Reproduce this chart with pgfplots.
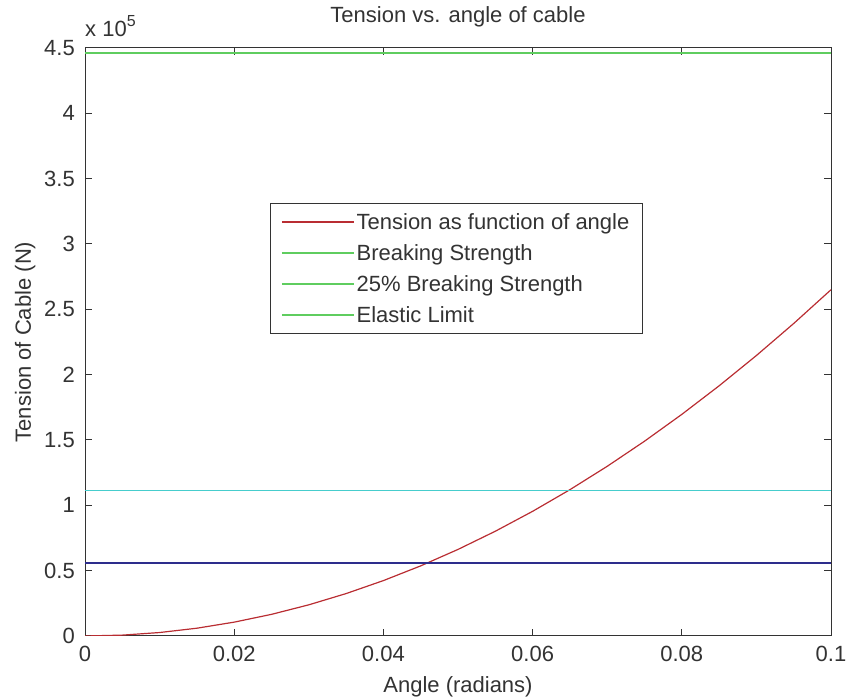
\documentclass[border=0pt]{standalone}
\usepackage{pgfplots}
\pgfplotsset{compat=1.18}
\usepackage{fontspec}
\setmainfont{Liberation Sans}

\definecolor{tensred}{RGB}{185,45,50}
\definecolor{breakg}{RGB}{95,205,95}
\definecolor{quartc}{RGB}{70,205,205}
\definecolor{elastb}{RGB}{45,45,140}

% tension of cable (units of 1e5 N) against angle (rad)
\pgfplotstableread{
x       y
0.000   0.0000
0.005   0.0066
0.010   0.0265
0.015   0.0596
0.020   0.1060
0.025   0.1656
0.030   0.2385
0.035   0.3246
0.040   0.4240
0.045   0.5366
0.050   0.6625
0.055   0.8016
0.060   0.9540
0.065   1.1196
0.070   1.2985
0.075   1.4906
0.080   1.6960
0.085   1.9146
0.090   2.1465
0.095   2.3916
0.100   2.6500
}\tensiondata

\begin{document}
\begin{tikzpicture}[x=1pt,y=1pt]
\useasboundingbox (0,0) rectangle (847,700);
\begin{axis}[
    at={(85pt,64pt)}, anchor=south west,
    width=746pt, height=588pt, scale only axis,
    clip mode=individual,
    xmin=0, xmax=0.1, ymin=0, ymax=4.5,
    xtick={0,0.02,0.04,0.06,0.08,0.1},
    xticklabels={0,0.02,0.04,0.06,0.08,0.1},
    ytick={0,0.5,1,1.5,2,2.5,3,3.5,4,4.5},
    yticklabels={0,0.5,1,1.5,2,2.5,3,3.5,4,4.5},
    tick align=inside,
    major tick length=7pt,
    xtick pos=both, ytick pos=both,
    axis line style={black!80, line width=1pt},
    every tick/.style={black!80, line width=1pt},
    font=\fontsize{22}{26}\selectfont,
    /pgf/number format/assume math mode=true,
    xticklabel style={anchor=base, inner sep=0pt, yshift=-26pt, text=black!80},
    yticklabel style={anchor=east, inner sep=0pt, xshift=-10pt, text=black!80},
    title={Tension vs. angle of cable},
    title style={at={(0.5,1)}, anchor=base, inner sep=0pt, yshift=19pt, text=black!80},
    xlabel={Angle (radians)},
    xlabel style={at={(0.5,0)}, anchor=base, inner sep=0pt, yshift=-57pt, text=black!80},
    ylabel={Tension of Cable (N)},
    every axis y label/.style={at={(rel axis cs:0,0.5)}, rotate=90, anchor=base, inner sep=0pt, yshift=54pt, text=black!80},
    legend style={at={(0.2475,0.7365)}, anchor=north west, draw=black!80, line width=1pt,
        font=\fontsize{22}{26}\selectfont, text=black!80,
        row sep=9.5pt, inner xsep=11pt, inner ysep=8pt},
    legend cell align=left,
]
\addplot[tensred, line width=1.2pt,
    legend image code/.code={\draw[tensred, line width=1.5pt] (0pt,0pt) -- (72pt,0pt);}]
    table[x=x, y=y] {\tensiondata};
\addlegendentry{Tension as function of angle}
\addplot[breakg, line width=1.5pt,
    legend image code/.code={\draw[breakg, line width=1.5pt] (0pt,0pt) -- (72pt,0pt);}]
    coordinates {(0,4.46) (0.1,4.46)};
\addlegendentry{Breaking Strength}
\addplot[quartc, line width=1.5pt,
    legend image code/.code={\draw[breakg, line width=1.5pt] (0pt,0pt) -- (72pt,0pt);}]
    coordinates {(0,1.115) (0.1,1.115)};
\addlegendentry{25\% Breaking Strength}
\addplot[elastb, line width=1.2pt,
    legend image code/.code={\draw[breakg, line width=1.5pt] (0pt,0pt) -- (72pt,0pt);}]
    coordinates {(0,0.558) (0.1,0.558)};
\addlegendentry{Elastic Limit}
\node[anchor=base west, inner sep=0pt, text=black!80, yshift=11pt] at (rel axis cs:0,1)
    {x 10\raisebox{10pt}{\fontsize{16}{18}\selectfont 5}};
\end{axis}
\end{tikzpicture}
\end{document}
